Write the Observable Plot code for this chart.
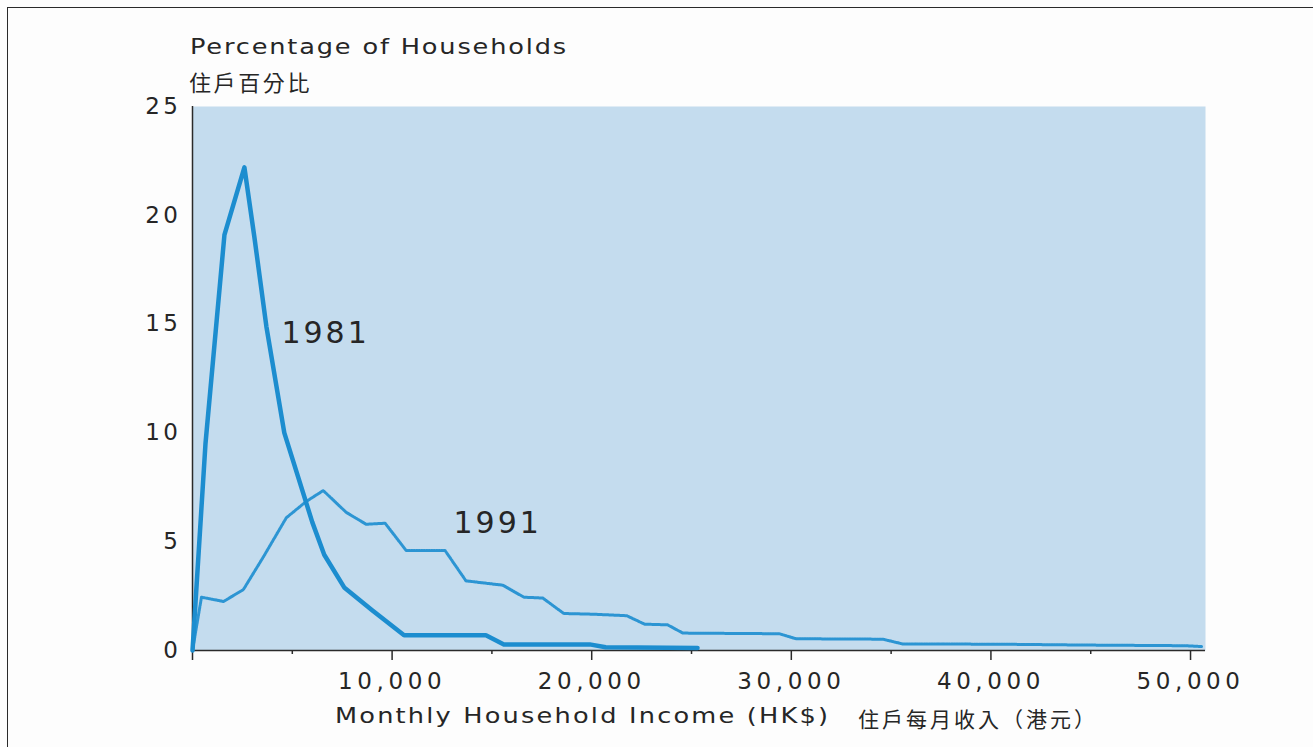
<!DOCTYPE html>
<html>
<head>
<meta charset="utf-8">
<script src="https://cdn.jsdelivr.net/npm/d3@7"></script>
<script src="https://cdn.jsdelivr.net/npm/@observablehq/plot@0.6"></script>
<style>
  html, body { margin: 0; padding: 0; background: #fdfdfd; }
  #wrap { position: relative; width: 1313px; height: 747px; overflow: hidden; }
  #frame { position: absolute; left: 7px; top: 7px; width: 1400px; height: 800px;
           border-top: 1.5px solid #2a2a2a; border-left: 1.5px solid #2a2a2a; }
  .t { position: absolute; color: #262626; white-space: nowrap; transform-origin: left center; }
  #ytitle { left: 190px; top: 35px; font: 21px "DejaVu Sans"; letter-spacing: 1.5px; transform: scaleX(1.22); }
  #ytitle2 { left: 189px; top: 65px; font: 22px "Noto Sans CJK TC"; letter-spacing: 2.6px; }
  #xtitle { left: 335px; top: 704px; font: 21px "DejaVu Sans"; letter-spacing: 1.8px; transform: scaleX(1.22); }
  #xtitle2 { left: 858px; top: 703px; font: 21px "Noto Sans CJK TC"; letter-spacing: 3px; }
  #chart { position: absolute; left: 0; top: 0; }
  #chart svg { overflow: visible; }
  #chart g[aria-label="x-axis tick label"] text { font-size: 23px; letter-spacing: 4.6px; fill: #262626; }
  #chart g[aria-label="y-axis tick label"] text { font-size: 23px; letter-spacing: 3.5px; fill: #262626; }
  #chart g[aria-label="text"] text { letter-spacing: 3px; }
</style>
</head>
<body>
<div id="wrap">
  <div id="frame"></div>
  <div id="chart"></div>
  <div class="t" id="ytitle">Percentage of Households</div>
  <div class="t" id="ytitle2">住戶百分比</div>
  <div class="t" id="xtitle">Monthly Household Income (HK$)</div>
  <div class="t" id="xtitle2">住戶每月收入（港元）</div>
</div>
<script>
// Monthly household income (HK$) and percentage of households
const income1981 = [0, 650, 1600, 2600, 3100, 3700, 4600, 6000, 6600, 7600, 9000, 10600, 14700, 15600, 19900, 20700, 25300];
const pct1981    = [0, 9.5, 19.1, 22.2, 19.0, 14.9, 10.0, 5.9, 4.4, 2.9, 1.85, 0.7, 0.7, 0.28, 0.28, 0.15, 0.12];

const income1991 = [0, 450, 1550, 2550, 3550, 4700, 5700, 6550, 7700, 8700, 9650, 10700, 12650, 13700, 15550, 16600, 17550, 18600, 20000, 21750, 22650, 23800, 24570, 29400, 30230, 34580, 35580, 40400, 44750, 49750, 50550];
const pct1991    = [0, 2.45, 2.25, 2.8, 4.3, 6.1, 6.85, 7.35, 6.35, 5.8, 5.85, 4.6, 4.6, 3.2, 3.0, 2.45, 2.41, 1.7, 1.67, 1.6, 1.21, 1.18, 0.8, 0.77, 0.54, 0.52, 0.3, 0.29, 0.25, 0.22, 0.18];

const yTicks = [0, 5, 10, 15, 20, 25];
const xMajorTicks = [0, 10000, 20000, 30000, 40000, 50000];
const xMinorTicks = [5000, 15000, 25000, 35000, 45000];

const yearLabels = ["1981", "1991"];
const yearLabelX = [6667, 15290];
const yearLabelY = [14.56, 5.86];

const d1981 = income1981.map((x, i) => ({x, y: pct1981[i]}));
const d1991 = income1991.map((x, i) => ({x, y: pct1991[i]}));
const labels = yearLabels.map((t, i) => ({t, x: yearLabelX[i], y: yearLabelY[i]}));

const blue = "#1c8dcf";
const fmt = d3.format(",");

const chart = Plot.plot({
  width: 1313,
  height: 747,
  marginLeft: 192,
  marginRight: 108,
  marginTop: 106,
  marginBottom: 97,
  style: {fontFamily: "DejaVu Sans", background: "transparent", color: "#262626"},
  x: {domain: [0, 50750]},
  y: {domain: [0, 25]},
  marks: [
    Plot.frame({fill: "#c4dcee", stroke: null}),
    Plot.axisY({ticks: yTicks, tickSize: 0, tickPadding: 11, label: null}),
    Plot.axisX({ticks: xMajorTicks, tickSize: 10, tickPadding: 12, label: null,
                tickFormat: d => d === 0 ? "" : fmt(d), stroke: "#2a2a2a", strokeWidth: 1.5}),
    Plot.axisX({ticks: xMinorTicks, tickSize: 4, tickFormat: () => "", label: null,
                stroke: "#2a2a2a", strokeWidth: 1.5}),
    Plot.ruleY([0], {stroke: "#2a2a2a", strokeWidth: 1.5}),
    Plot.ruleX([0], {y1: 0, y2: 25, stroke: "#2a2a2a", strokeWidth: 1.5}),
    Plot.line(d1991, {x: "x", y: "y", stroke: blue, strokeWidth: 3, strokeDasharray: "1.5,1", strokeOpacity: 0.9}),
    Plot.line(d1981, {x: "x", y: "y", stroke: blue, strokeWidth: 4.5, strokeLinejoin: "round"}),
    Plot.text(labels, {x: "x", y: "y", text: "t", fontSize: 30, fill: "#262626", textAnchor: "middle"})
  ]
});
document.getElementById("chart").appendChild(chart);
</script>
</body>
</html>
